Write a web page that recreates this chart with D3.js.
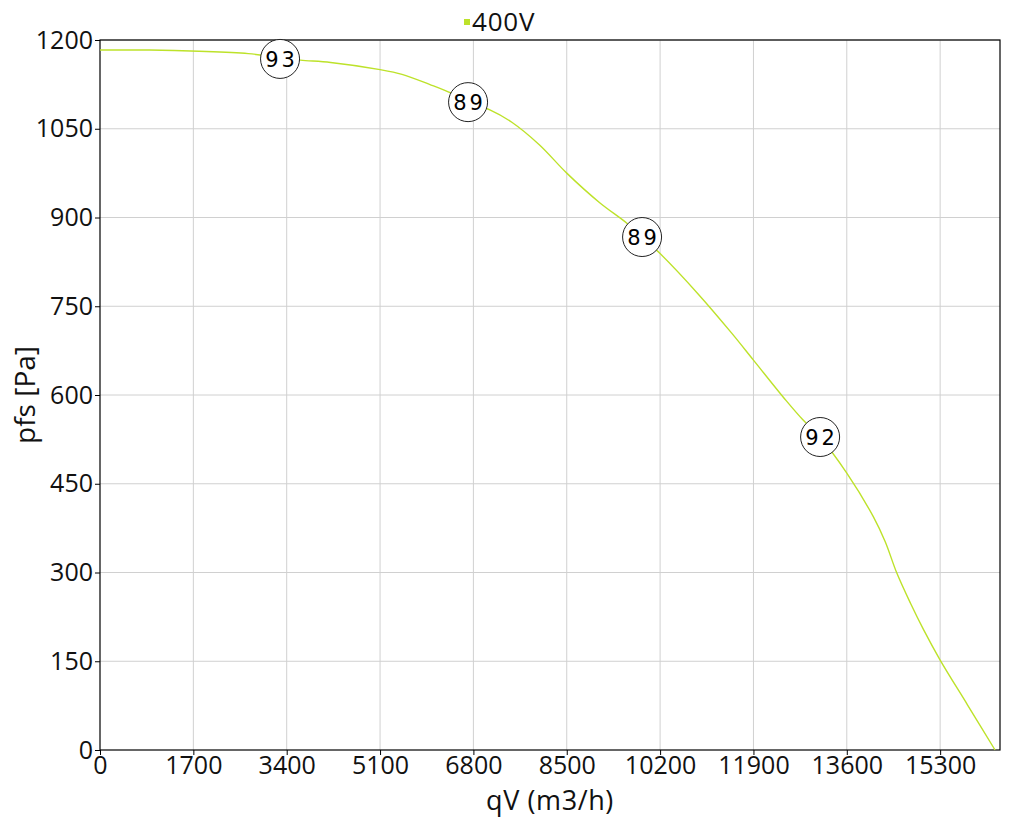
<!DOCTYPE html>
<html><head><meta charset="utf-8">
<script src="https://cdn.jsdelivr.net/npm/d3@7"></script>
<style>
body{margin:0;background:#fff;}
svg{display:block;font-family:"Open Sans",sans-serif;}
</style></head><body>
<svg id="chart" width="1020" height="820"></svg>
<script>
const seriesName = "400V";
const qv  = [0, 900, 1800, 2700, 3300, 3650, 4200, 5100, 5500, 6000, 6400, 6700, 7100, 7500, 8000, 8500, 9100, 9600, 9870, 10200, 10900, 11500, 11900, 12500, 12800, 13110, 13600, 14085, 14300, 14511, 14760, 15000, 15300, 15800, 16300];
const pfs = [1183, 1183, 1181, 1177, 1170, 1166, 1162, 1150, 1142, 1125, 1110, 1095, 1082, 1061, 1023, 975, 925, 890, 867, 839, 770, 705, 659, 590, 558, 529, 468, 394, 352, 299, 248, 203, 152, 76, 0];
const markerQv  = [3279, 6703, 9872, 13114];
const markerPfs = [1168, 1095, 867, 529];
const markerLabels = ["93", "89", "89", "92"];
const xTicks = [0, 1700, 3400, 5100, 6800, 8500, 10200, 11900, 13600, 15300];
const yTicks = [0, 150, 300, 450, 600, 750, 900, 1050, 1200];
const xMax = 16390, yMax = 1200;
const color = "#bde22a";

const svg = d3.select("#chart");
const m = {l:100, r:20, t:40, b:70};
const W = 1020, H = 820;
const x = d3.scaleLinear().domain([0, xMax]).range([m.l, W - m.r]);
const y = d3.scaleLinear().domain([0, yMax]).range([H - m.b, m.t]);

// grid
const g = svg.append("g");
g.selectAll(".vg").data(xTicks.slice(1)).enter().append("line")
  .attr("x1", d=>x(d)).attr("x2", d=>x(d)).attr("y1", y(0)).attr("y2", y(yMax))
  .attr("stroke", "#d0d0d0").attr("stroke-width", 1);
g.selectAll(".hg").data(yTicks.slice(1)).enter().append("line")
  .attr("y1", d=>y(d)).attr("y2", d=>y(d)).attr("x1", x(0)).attr("x2", x(xMax))
  .attr("stroke", "#d0d0d0").attr("stroke-width", 1);

// axes
const xAxis = svg.append("g").attr("transform", `translate(0,${y(0)})`)
  .call(d3.axisBottom(x).tickValues(xTicks).tickSize(5).tickPadding(1).tickFormat(d3.format("d")));
const yAxis = svg.append("g").attr("transform", `translate(${x(0)},0)`)
  .call(d3.axisLeft(y).tickValues(yTicks).tickSize(5).tickPadding(2).tickFormat(d3.format("d")));
[xAxis, yAxis].forEach(a => {
  a.select(".domain").remove();
  a.selectAll("text").attr("font-size", 25).attr("fill", "#111").attr("font-family", "'Open Sans',sans-serif");
  a.selectAll("line").attr("stroke", "#000");
});
xAxis.selectAll("text").attr("dy", "0.72em");

// frame
svg.append("rect").attr("x", x(0)).attr("y", y(yMax)).attr("width", x(xMax)-x(0)).attr("height", y(0)-y(yMax))
  .attr("fill", "none").attr("stroke", "#000").attr("stroke-width", 1.2);

// curve
const pts = qv.map((d,i)=>[d, pfs[i]]);
svg.append("path").datum(pts)
  .attr("d", d3.line().x(d=>x(d[0])).y(d=>y(d[1])).curve(d3.curveCatmullRom.alpha(0.5)))
  .attr("fill", "none").attr("stroke", color).attr("stroke-width", 1.4);

// markers
const mk = svg.selectAll(".mk").data(markerQv.map((d,i)=>({q:d, p:markerPfs[i], t:markerLabels[i]})))
  .enter().append("g").attr("transform", d=>`translate(${x(d.q)},${y(d.p)})`);
mk.append("circle").attr("r", 19.5).attr("fill", "#fff").attr("stroke", "#222").attr("stroke-width", 1);
mk.append("text").text(d=>d.t).attr("text-anchor", "middle").attr("dy", "0.37em")
  .attr("font-family", "'DejaVu Sans',sans-serif").attr("font-size", 21).attr("letter-spacing", 3).attr("dx", 1.5)
  .attr("fill", "#000");

// legend
svg.append("rect").attr("x", 464).attr("y", 19).attr("width", 6).attr("height", 6).attr("fill", color);
svg.append("text").attr("x", 472).attr("y", 31).text(seriesName).attr("font-size", 26).attr("letter-spacing", 0.8).attr("fill", "#111");

// axis titles
svg.append("text").attr("x", 550).attr("y", 810).attr("text-anchor", "middle").attr("font-size", 27).attr("letter-spacing", 0.6).attr("fill", "#111").text("qV (m3/h)");
svg.append("text").attr("transform", "translate(35,395) rotate(-90)").attr("text-anchor", "middle").attr("font-size", 28).attr("fill", "#111").text("pfs [Pa]");
</script></body></html>
